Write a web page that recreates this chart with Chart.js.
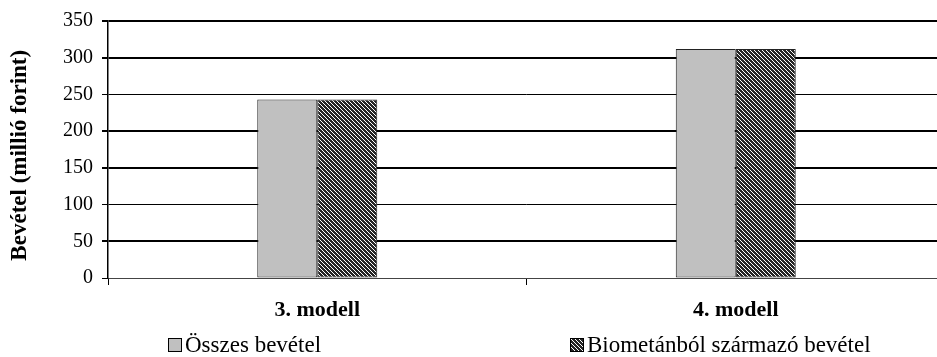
<!DOCTYPE html>
<html>
<head>
<meta charset="utf-8">
<script src="https://cdn.jsdelivr.net/npm/chart.js@4.4.1/dist/chart.umd.min.js"></script>
<style>
  html, body { margin: 0; padding: 0; background: #fff; overflow: hidden; }
  #wrap { width: 937px; height: 357px; position: relative; overflow: hidden; }
</style>
</head>
<body>
<div id="wrap"><canvas id="c" width="945" height="357"></canvas></div>
<script>
// Bevétel modellenként (millió forint)
const categories = ['3. modell', '4. modell'];
const seriesNames = ['Összes bevétel', 'Biometánból származó bevétel'];
const osszesBevetel = [243, 312];
const biometanBevetel = [243, 312];
const yTicks = [0, 50, 100, 150, 200, 250, 300, 350];

const FONT = '"Liberation Serif", "Times New Roman", serif';

// Sűrű ferde sraffozás a biometán-oszlophoz
function makeHatch() {
  const c = document.createElement('canvas');
  c.width = 4; c.height = 4;
  const g = c.getContext('2d');
  g.fillStyle = '#262626';
  g.fillRect(0, 0, 4, 4);
  g.fillStyle = '#ffffff';
  for (let i = 0; i < 4; i++) g.fillRect(i, i, 1, 1);
  return g.createPattern(c, 'repeat');
}
const hatch = makeHatch();

// Jelmagyarázat a diagram alatt
const bottomLegend = {
  id: 'bottomLegend',
  afterDraw(chart) {
    const ctx = chart.ctx;
    const area = chart.chartArea;
    const w = area.right - area.left;
    const starts = [area.left + w * 0.0719, area.left + w * 0.552];
    const baseline = 352;
    ctx.save();
    ctx.font = '23px ' + FONT;
    ctx.textBaseline = 'alphabetic';
    chart.data.datasets.forEach((ds, i) => {
      const x = Math.round(starts[i]);
      ctx.fillStyle = ds.backgroundColor;
      ctx.fillRect(x, baseline - 14, 14, 14);
      ctx.lineWidth = 1;
      ctx.strokeStyle = '#000';
      ctx.strokeRect(x + 0.5, baseline - 13.5, 13, 13);
      ctx.fillStyle = '#000';
      ctx.fillText(ds.label, x + 17, baseline);
    });
    ctx.restore();
  }
};

new Chart(document.getElementById('c'), {
  type: 'bar',
  data: {
    labels: categories,
    datasets: [
      {
        label: seriesNames[0],
        data: osszesBevetel,
        backgroundColor: '#c0c0c0',
        borderColor: '#222',
        borderWidth: 1,
        borderSkipped: false
      },
      {
        label: seriesNames[1],
        data: biometanBevetel,
        backgroundColor: hatch,
        borderColor: '#222',
        borderWidth: 1,
        borderSkipped: false
      }
    ]
  },
  options: {
    responsive: false,
    animation: false,
    devicePixelRatio: 1,
    layout: { padding: { top: 21, right: 0, bottom: 0, left: 0 } },
    datasets: { bar: { categoryPercentage: 0.2867, barPercentage: 1 } },
    plugins: {
      legend: { display: false },
      tooltip: { enabled: false }
    },
    scales: {
      x: {
        afterFit(scale) { scale.height = 79; },
        grid: {
          display: true,
          drawOnChartArea: false,
          drawTicks: true,
          tickLength: 7,
          color: '#000',
          offset: true
        },
        border: { display: true, color: '#444', width: 1 },
        ticks: {
          color: '#000',
          padding: 12,
          font: { family: FONT, size: 22, weight: 'bold' },
          maxRotation: 0
        }
      },
      y: {
        min: 0,
        max: 350,
        afterFit(scale) { scale.width = 108; },
        afterBuildTicks(scale) { scale.ticks = yTicks.map(v => ({ value: v })); },
        grid: {
          color: '#000',
          lineWidth: ctx => {
            const v = ctx.tick ? ctx.tick.value : 0;
            if (v === 0) return 1;
            return (v === 250 || v === 100) ? 1 : 2;
          },
          tickLength: 6,
          drawTicks: true
        },
        border: { display: true, color: '#000', width: 1.5 },
        ticks: {
          color: '#000',
          padding: 9,
          font: { family: FONT, size: 20 }
        },
        title: {
          display: true,
          text: 'Bevétel (millió forint)  ',
          color: '#000',
          font: { family: FONT, size: 23, weight: 'bold' },
          padding: { top: 6, bottom: 0 }
        }
      }
    }
  },
  plugins: [bottomLegend]
});
</script>
</body>
</html>
